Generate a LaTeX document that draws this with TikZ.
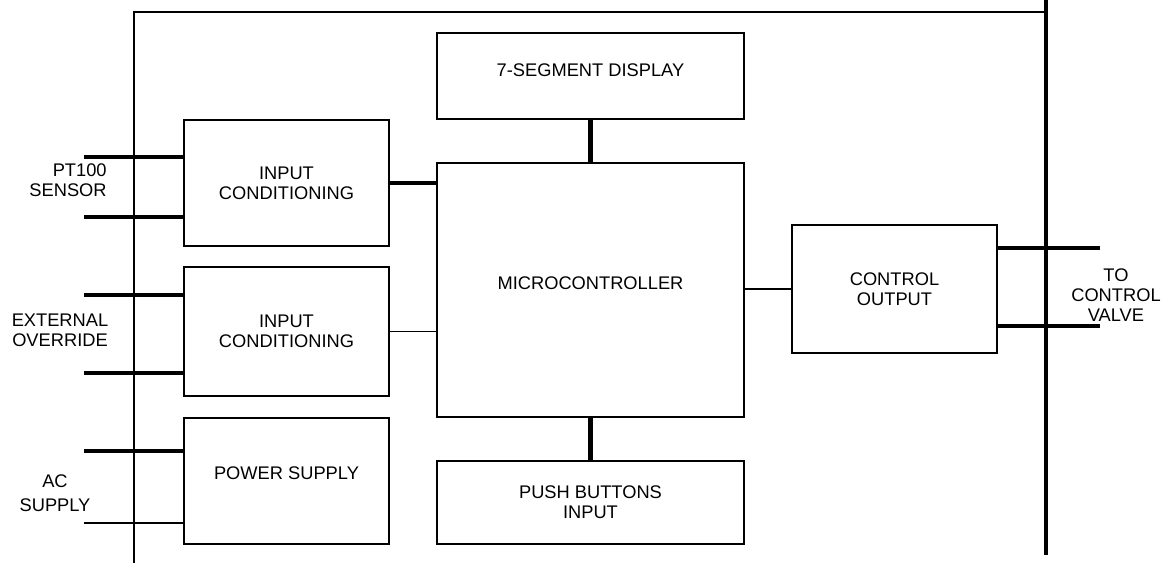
\documentclass[tikz,border=0pt]{standalone}
\usepackage{fontspec}
\setmainfont{Liberation Sans}
\begin{document}
\begin{tikzpicture}[
    block/.style={draw, line width=1.6pt, align=center, inner sep=0pt,
                  font=\fontsize{10.4}{11.4}\selectfont},
    wire/.style={line width=2.3pt},
    link/.style={line width=1.1pt},
    bus/.style={line width=1.6pt},
    tag/.style={align=center, inner sep=0pt, font=\fontsize{10.4}{11.4}\selectfont}
  ]
  \useasboundingbox (0,0) rectangle (23.4,11.26);
  % Enclosure
  \draw[bus] (2.68,0) -- (2.68,11.02) -- (20.92,11.02);
  \draw[bus, line width=2.1pt] (20.92,11.26) -- (20.92,0.16);
  % Blocks
  \node[block, minimum width=4.1cm, minimum height=2.52cm] (ic1) at (5.73,7.6) {INPUT\\CONDITIONING};
  \node[block, minimum width=4.1cm, minimum height=2.58cm] (ic2) at (5.73,4.63) {INPUT\\CONDITIONING};
  \node[block, minimum width=4.1cm, minimum height=2.52cm, text depth=0.32cm] (psu) at (5.73,1.64) {POWER SUPPLY};
  \node[block, minimum width=6.14cm, minimum height=1.72cm, text depth=0.24cm] (disp) at (11.81,9.74) {7-SEGMENT DISPLAY};
  \node[block, minimum width=6.14cm, minimum height=5.08cm, text depth=0.28cm] (mcu) at (11.81,5.46) {MICROCONTROLLER};
  \node[block, minimum width=6.14cm, minimum height=1.66cm] (push) at (11.81,1.21) {PUSH BUTTONS\\INPUT};
  \node[block, minimum width=4.1cm, minimum height=2.56cm] (ctrl) at (17.89,5.48) {CONTROL\\OUTPUT};
  % Labels
  \node[tag, align=right, anchor=east] (lblpt) at (2.14,7.66) {PT100\\SENSOR};
  \node[tag] (lblext) at (1.2,4.66) {EXTERNAL\\OVERRIDE};
  \node[tag, font=\fontsize{10.4}{13.6}\selectfont] (lblac) at (1.1,1.4) {AC\\SUPPLY};
  \node[tag] (lblvalve) at (22.32,5.36) {TO\\CONTROL\\VALVE};
  % Field wires
  \coordinate (pt1) at (1.68,8.12);
  \coordinate (pt2) at (1.68,6.92);
  \coordinate (ext1) at (1.68,5.36);
  \coordinate (ext2) at (1.68,3.8);
  \coordinate (ac1) at (1.68,2.24);
  \coordinate (ac2) at (1.68,0.8);
  \coordinate (out1) at (22.0,6.3);
  \coordinate (out2) at (22.0,4.74);
  \draw[wire] (pt1) -- (pt1 -| ic1.west);
  \draw[wire] (pt2) -- (pt2 -| ic1.west);
  \draw[wire] (ext1) -- (ext1 -| ic2.west);
  \draw[wire] (ext2) -- (ext2 -| ic2.west);
  \draw[wire] (ac1) -- (ac1 -| psu.west);
  \draw[link] (ac2) -- (ac2 -| psu.west);
  \draw[wire] (out1 -| ctrl.east) -- (out1);
  \draw[wire] (out2 -| ctrl.east) -- (out2);
  % Internal links
  \draw[wire] (ic1.east) -- (ic1.east -| mcu.west);
  \draw[link] (ic2.east) -- (ic2.east -| mcu.west);
  \draw[link] (mcu.east |- ctrl.west) -- (ctrl.west);
  \draw[wire] (disp.south) -- (mcu.north);
  \draw[wire] (mcu.south) -- (push.north);
\end{tikzpicture}
\end{document}
